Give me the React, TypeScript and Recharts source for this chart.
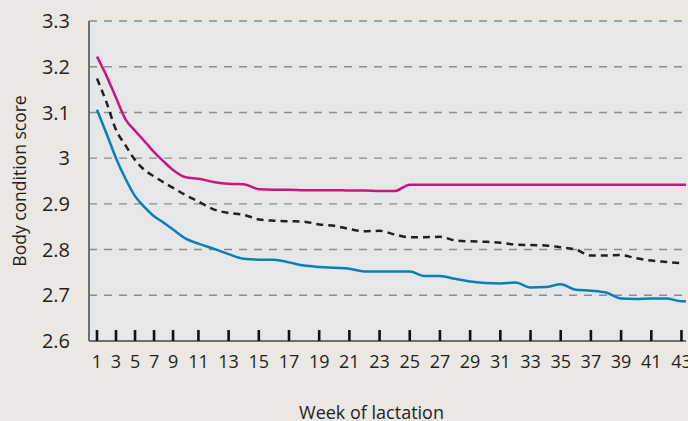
import React from 'react';
import { LineChart, Line, XAxis, YAxis, CartesianGrid, Label } from 'recharts';

// Weeks of lactation and body condition score per week
const WEEKS = [
  1, 2, 3, 4, 5, 6, 7, 8, 9, 10, 11, 12, 13, 14, 15, 16, 17, 18, 19, 20, 21, 22,
  23, 24, 25, 26, 27, 28, 29, 30, 31, 32, 33, 34, 35, 36, 37, 38, 39, 40, 41, 42, 43, 44,
];

const UPPER = [
  3.222, 3.18, 3.132, 3.085, 3.06, 3.037, 3.013, 2.993, 2.974, 2.958, 2.955, 2.948,
  2.944, 2.943, 2.932, 2.931, 2.931, 2.93, 2.93, 2.93, 2.929, 2.929, 2.928, 2.928,
  2.942, 2.942, 2.942, 2.942, 2.942, 2.942, 2.942, 2.942, 2.942, 2.942, 2.942, 2.942,
  2.942, 2.942, 2.942, 2.942, 2.942, 2.942, 2.942, 2.942,
];

const MEAN = [
  3.174, 3.122, 3.062, 3.028, 2.996, 2.974, 2.96, 2.947, 2.935, 2.919, 2.905, 2.888,
  2.88, 2.876, 2.866, 2.863, 2.862, 2.861, 2.855, 2.852, 2.845, 2.84, 2.841, 2.833,
  2.827, 2.827, 2.828, 2.82, 2.818, 2.817, 2.815, 2.811, 2.81, 2.809, 2.805, 2.8,
  2.787, 2.787, 2.788, 2.781, 2.776, 2.773, 2.77,
];

const LOWER = [
  3.106, 3.054, 3.0, 2.955, 2.917, 2.893, 2.873, 2.859, 2.844, 2.824, 2.813, 2.802,
  2.79, 2.78, 2.778, 2.778, 2.772, 2.765, 2.762, 2.76, 2.758, 2.752, 2.752, 2.752,
  2.752, 2.742, 2.742, 2.736, 2.73, 2.727, 2.726, 2.728, 2.717, 2.718, 2.724, 2.712,
  2.71, 2.706, 2.693, 2.692, 2.693, 2.693, 2.687, 2.687,
];

const WEEK_TICKS = [1, 3, 5, 7, 9, 11, 13, 15, 17, 19, 21, 23, 25, 27, 29, 31, 33, 35, 37, 39, 41, 43];
const SCORE_TICKS = [2.6, 2.7, 2.8, 2.9, 3.0, 3.1, 3.2, 3.3];

const data = WEEKS.map((week, i) => ({
  week,
  upper: UPPER[i],
  mean: MEAN[i] ?? null,
  lower: LOWER[i],
}));

const FONT = '"Open Sans", "Noto Sans", sans-serif';
const INK = '#231f20';
const AXIS = '#6d6e70';
const X_TICK_GAP = 14;

// the week axis is squeezed for the first weeks, like the original figure
const warp = (w: number) => {
  if (w <= 9) return (w - 1) * 0.63;
  if (w <= 11) return 8 * 0.63 + (w - 9) * 0.84;
  return 8 * 0.63 + 2 * 0.84 + (w - 11);
};

function weekScale(dom: number[] = [0, 1], rng: number[] = [0, 1]): any {
  const scale: any = (v: number) => {
    const a = warp(dom[0]);
    const b = warp(dom[1]);
    return rng[0] + ((warp(v) - a) / (b - a)) * (rng[1] - rng[0]);
  };
  scale.domain = (d?: number[]) => {
    if (!d) return dom;
    dom = [Number(d[0]), Number(d[d.length - 1])];
    return scale;
  };
  scale.range = (r?: number[]) => {
    if (!r) return rng;
    rng = [Number(r[0]), Number(r[r.length - 1])];
    return scale;
  };
  scale.copy = () => weekScale(dom, rng);
  scale.ticks = () => WEEK_TICKS;
  scale.clamp = () => scale;
  return scale;
}

// tick mark pointing up into the plot, label underneath
const WeekTick = (props: any) => {
  const x = Number(props.x);
  const y = Number(props.y);
  const axisY = y - X_TICK_GAP;
  return (
    <g>
      <path d={`M${x},${axisY - 11}V${axisY}`} stroke="#111111" strokeWidth={2.6} fill="none" />
      <text x={x} y={y} dy="0.71em" textAnchor="middle" fontSize={18} fill={INK} fontFamily={FONT}>
        {props.payload.value}
      </text>
    </g>
  );
};

const XTitle = ({ viewBox }: any) => {
  const { x, y, width, height } = viewBox;
  return (
    <text x={x + width / 2 - 16} y={y + height - 2} textAnchor="middle" fontSize={18} fill={INK} fontFamily={FONT}>
      Week of lactation
    </text>
  );
};

const YTitle = ({ viewBox }: any) => {
  const { y, height } = viewBox;
  const cx = 26;
  const cy = y + height / 2;
  return (
    <text x={cx} y={cy} transform={`rotate(-90 ${cx} ${cy})`} textAnchor="middle" fontSize={17.5} fill={INK} fontFamily={FONT}>
      Body condition score
    </text>
  );
};

export default function App() {
  return (
    <div
      style={{
        position: 'absolute',
        left: 0,
        top: 0,
        width: 688,
        height: 421,
        overflow: 'hidden',
        background: '#ebe8e4',
        fontFamily: FONT,
      }}
    >
      <LineChart width={688} height={421} data={data} margin={{ top: 21, right: 2, bottom: 0, left: 0 }}>
        <CartesianGrid vertical={false} stroke="#8c8c8c" strokeWidth={1.4} strokeDasharray="8 7" fill="#e6e7e9" />
        <Line dataKey="upper" type="monotone" stroke="#c8177f" strokeWidth={2.5} dot={false} isAnimationActive={false} />
        <Line
          dataKey="mean"
          type="monotone"
          stroke={INK}
          strokeWidth={2.5}
          strokeDasharray="7 5"
          dot={false}
          isAnimationActive={false}
        />
        <Line dataKey="lower" type="monotone" stroke="#0a7fb6" strokeWidth={2.5} dot={false} isAnimationActive={false} />
        <XAxis
          dataKey="week"
          type="number"
          scale={weekScale()}
          domain={[0.16, 43.3]}
          allowDataOverflow
          ticks={WEEK_TICKS}
          interval={0}
          height={80}
          axisLine={{ stroke: AXIS, strokeWidth: 2 }}
          tickLine={false}
          tickSize={0}
          tickMargin={X_TICK_GAP}
          tick={<WeekTick />}
        >
          <Label content={<XTitle />} />
        </XAxis>
        <YAxis
          type="number"
          domain={[2.6, 3.3]}
          ticks={SCORE_TICKS}
          interval={0}
          width={89}
          axisLine={{ stroke: AXIS, strokeWidth: 2 }}
          tickLine={false}
          tickSize={0}
          tickMargin={19}
          tickFormatter={(v: number) => String(parseFloat(v.toFixed(1)))}
          tick={{ fontSize: 20, fill: INK, fontFamily: FONT }}
        >
          <Label content={<YTitle />} />
        </YAxis>
      </LineChart>
    </div>
  );
}
